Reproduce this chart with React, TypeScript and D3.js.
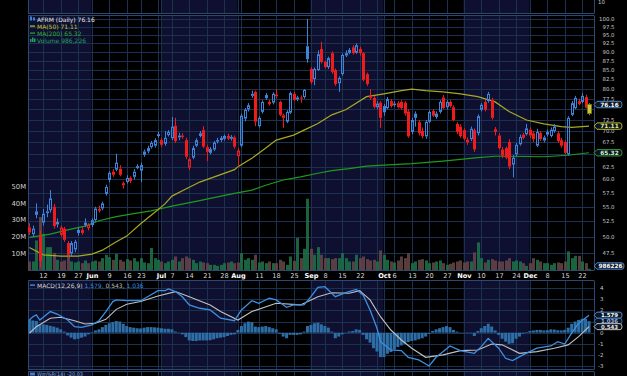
import React from "react";
import * as d3 from "d3";

const W = 627, H = 376;
const X0 = 28, X1 = 594;
const TOP_STRIP_BOT = 13.5;
const MAIN_TOP = 15.5, MAIN_BOT = 270.5;
const MACD_TOP = 280.5, MACD_BOT = 369.5, WM_TOP = 371.5;

const FIRST_DAY = "2025-05-06";
const LAST_DAY = "2025-12-24";
const HOLIDAYS = ["2025-05-26", "2025-06-19", "2025-07-04", "2025-09-01", "2025-11-27"];

const TICK_DATES = ["2025-05-12","2025-05-19","2025-05-27","2025-06-02","2025-06-09","2025-06-16","2025-06-23","2025-07-01","2025-07-07","2025-07-14","2025-07-21","2025-07-28","2025-08-01","2025-08-11","2025-08-18","2025-08-25","2025-09-02","2025-09-08","2025-09-15","2025-09-22","2025-10-01","2025-10-06","2025-10-13","2025-10-20","2025-10-27","2025-11-03","2025-11-10","2025-11-17","2025-11-24","2025-12-01","2025-12-08","2025-12-15","2025-12-22"];
const TICK_LABELS = ["12","19","27","Jun","9","16","23","Jul","7","14","21","28","Aug","11","18","25","Sep","8","15","22","Oct","6","13","20","27","Nov","10","17","24","Dec","8","15","22"];
const EXTRA_GRID_DATES = ["2025-06-30", "2025-08-04", "2025-09-29"];
const NAVY_MONTHS = [4, 6, 8, 10];

const PRICE_TICKS = [47.5,50,52.5,55,57.5,60,62.5,65,67.5,70,72.5,75,77.5,80,82.5,85,87.5,90,92.5,95,97.5,100];
const PRICE_LABELS_HIDDEN = [65, 75];
const VOLUME_TICKS = [10, 20, 30, 40, 50];
const MACD_TICKS = [4, 3, 2, 1, 0, -1, -2, -3];
const MACD_LABELS_HIDDEN = [1];

const PREV_CLOSE = 51.6;
const OPEN = [51.5,50.4,53.6,50.2,52.3,54.2,54.4,55.0,52.0,50.3,
51.3,49.0,47.4,48.0,50.6,51.1,51.9,51.4,51.9,52.7,
54.6,54.7,57.3,59.9,61.5,61.9,62.1,58.9,59.5,60.3,
60.5,62.2,61.7,64.9,65.6,66.5,66.8,68.9,68.0,67.2,
69.1,68.4,71.2,68.6,69.0,68.0,62.3,64.3,66.8,68.9,
70.2,66.5,65.3,66.0,67.8,68.0,68.3,68.9,68.3,68.6,
64.6,66.8,72.8,75.0,78.8,79.3,71.1,74.4,77.7,76.3,
76.6,78.6,76.8,73.6,72.1,74.2,78.8,77.4,77.9,78.0,
91.7,85.3,82.6,85.0,90.9,87.2,85.8,89.7,85.0,81.5,
83.9,89.0,89.8,91.4,89.8,90.9,89.7,83.9,78.3,77.8,
75.5,76.6,75.8,75.3,77.0,76.0,76.5,76.8,76.6,74.5,
69.8,74.0,72.0,70.0,68.8,72.1,74.6,73.2,74.4,77.9,
75.5,76.8,75.5,71.6,71.0,70.2,67.5,68.2,70.2,69.5,
74.9,76.8,77.0,77.3,69.8,69.0,66.0,66.3,67.6,62.9,
65.0,67.1,69.2,69.3,70.3,69.5,66.8,69.6,67.9,69.8,
68.9,70.0,69.5,68.0,67.6,65.0,73.7,75.3,77.0,76.8,
78.0,74.0];
const HIGH = [52.2,51.8,55.6,51.0,54.6,55.4,58.0,55.5,53.0,51.8,
51.6,49.3,49.3,49.5,51.5,51.6,53.0,52.2,53.0,55.0,
55.2,55.9,59.0,61.6,62.0,65.1,62.8,59.6,60.8,60.6,
62.0,63.0,63.3,66.0,66.8,67.8,68.4,69.8,68.5,70.0,
70.2,73.2,73.0,69.6,69.5,68.5,64.3,66.8,68.4,70.0,
71.1,67.0,66.5,67.8,68.5,68.9,69.2,69.4,69.1,69.0,
66.3,74.0,75.3,76.5,79.6,79.6,73.4,77.2,79.0,77.3,
79.2,80.0,77.1,74.0,74.8,79.4,79.3,78.3,78.4,80.0,
100.0,85.8,85.7,90.5,93.0,87.6,88.7,90.2,85.4,83.3,
89.6,90.5,91.2,92.0,92.5,91.5,90.0,84.3,80.0,78.3,
77.0,77.0,76.3,78.0,77.5,76.9,77.0,77.2,77.0,75.0,
73.0,74.5,72.5,70.8,72.5,74.8,75.0,74.5,77.2,78.5,
77.2,77.2,76.0,72.0,71.5,70.6,68.6,71.0,70.6,73.8,
76.5,77.3,79.3,77.8,70.9,69.5,66.5,66.6,68.2,64.8,
67.4,69.2,69.6,71.6,70.8,70.0,70.5,70.0,69.0,70.3,
70.8,71.6,70.0,68.5,68.0,73.4,77.0,78.3,77.6,79.0,
78.6,76.5];
const LOW = [50.3,50.0,53.0,45.4,51.8,53.2,54.0,51.3,51.5,50.0,
49.2,46.8,47.0,47.6,50.2,50.3,51.6,51.0,51.6,52.4,
54.0,54.4,57.0,59.5,60.5,61.6,60.6,58.3,59.2,59.3,
60.0,62.0,59.5,64.5,65.2,66.2,66.4,68.5,66.5,66.8,
68.8,68.0,67.4,68.0,68.3,64.0,61.8,64.0,66.5,68.6,
66.3,63.6,65.0,65.7,67.3,67.6,67.9,68.0,67.9,66.2,
62.5,66.5,72.2,74.5,77.8,71.1,70.8,74.0,77.3,75.9,
76.2,77.7,73.4,70.7,71.8,73.9,77.0,77.0,76.6,77.6,
87.0,81.3,81.0,84.8,86.8,85.4,85.3,84.0,80.8,79.3,
83.5,88.6,89.4,89.3,89.5,89.0,82.0,80.8,77.3,75.2,
75.0,70.7,73.5,75.0,75.4,75.6,75.2,75.0,73.5,68.5,
69.3,71.0,69.0,68.4,68.3,71.8,73.2,72.8,74.0,75.0,
75.0,75.4,72.2,69.3,68.5,68.0,67.0,67.8,65.5,69.0,
74.5,74.5,76.6,72.6,69.0,66.0,64.2,64.0,62.0,60.4,
64.6,66.8,68.2,69.0,68.5,67.6,66.5,67.8,67.5,68.8,
68.6,69.6,67.4,66.4,65.0,64.7,73.4,75.0,76.0,76.5,
75.2,73.6];
const CLOSE = [50.7,51.3,54.2,46.3,53.8,53.9,56.5,51.7,52.4,51.5,
49.5,47.2,49.0,49.2,51.1,50.6,52.3,51.9,52.7,54.7,
54.3,55.6,58.6,61.3,60.9,63.3,60.9,59.3,60.3,59.7,
61.5,62.6,62.8,65.6,66.3,67.4,68.0,69.3,67.0,68.5,
69.8,71.0,67.8,69.0,68.7,64.5,64.0,66.3,68.0,69.5,
66.6,65.5,66.1,67.5,68.0,68.5,68.9,68.3,68.7,66.6,
65.8,73.5,74.9,76.0,78.3,72.1,73.0,76.8,78.5,76.8,
78.8,78.2,73.7,73.0,74.4,79.0,77.3,77.9,77.6,79.8,
88.0,81.8,85.3,89.4,87.2,85.8,88.3,84.5,81.3,82.9,
89.2,89.7,90.6,89.7,92.0,89.7,82.4,81.3,77.8,75.6,
76.4,73.0,74.3,77.5,75.8,76.4,75.5,75.3,74.0,68.8,
72.5,73.0,69.5,68.9,72.1,74.4,73.5,74.0,76.8,75.3,
76.8,75.8,72.5,69.8,68.9,68.3,68.1,70.5,66.0,73.4,
76.1,74.9,78.8,73.0,70.4,66.3,64.7,64.3,62.5,64.3,
67.0,68.7,68.5,70.6,69.0,68.2,69.8,68.2,68.6,69.2,
70.3,71.0,67.8,66.8,65.3,73.0,76.5,77.8,76.3,78.3,
75.4,76.16];
const VOLUME_M = [5.4,5.4,18,32,22,14,14,10.5,6.4,5.4,
6,9.4,5.4,4.8,5.4,4.4,6,4.4,5.4,6,
5.4,7.4,9.4,8,6.4,9.9,6.4,5.4,6.8,6,
7.4,5.4,7.4,4.8,4.4,13.5,7.4,6.4,5.4,4.4,
5.4,6.4,8.4,5.4,7.4,8.4,7.4,6.4,4.4,5.4,
4.8,4.4,3.4,3.4,2.8,3.4,4.4,4.8,5.4,4.4,
4.8,10.4,6.4,7.4,6.4,9.4,4.8,5.4,4.4,5.4,
4.4,4.4,6.4,5.4,3.4,8.4,5.8,19.5,7.4,13,
43,13,9.4,14,9.4,7.4,7.4,6.8,7.4,7.4,
10.4,7.4,5.4,5.4,9.4,7.4,8.4,6.8,6,6.4,
5.4,12,9.4,6.4,5.4,4.8,6,8.4,7.4,10.4,
4.4,5.4,6.4,6.8,6,4.4,4.8,5.4,6,4.4,
3.4,4,4.8,5.4,6,4.8,5.4,5.4,10.8,16.8,
7.4,4.8,6.4,6.8,6,5.4,5.4,6,7.4,5.4,
6,5.4,4.4,2.8,4.4,7.4,6.4,5.4,4.4,4.4,
3.4,4.4,4.8,4.4,5.4,11.4,7.4,8.8,8.8,5.4,
4.4,0.99];

const MA50_IDX = [0,4,9,14,18,21,25,28,32,36,39,41,45,49,52,59,60,64,68,71,76,79,83,87,91,97,102,107,110,114,119,124,129,134,138,143,148,153,156,161];
const MA50_VAL = [48.3,47.2,47.0,47.0,47.3,47.9,49.2,50.1,52.1,54.0,55.5,56.9,58.2,59.5,60.2,61.9,62.5,64.2,66.3,68.0,69.1,70.2,71.7,73.7,74.9,78.1,78.8,79.6,80.0,79.6,79.3,78.8,78.1,76.8,74.5,72.5,71.6,71.0,70.8,71.11];
const MA200_IDX = [0,6,11,16,20,25,30,35,38,41,45,49,52,59,64,68,73,78,83,87,92,97,102,110,119,129,134,138,148,155,161];
const MA200_VAL = [49.9,50.4,51.1,51.7,52.6,53.3,53.8,54.3,54.7,55.1,55.6,56.1,56.5,57.4,58.0,58.9,59.9,60.5,61.2,61.7,62.1,62.6,62.8,63.1,63.6,64.3,64.6,64.6,64.5,64.8,65.32];

const MACD_IDX = [0,1,2,3,6,8,11,13,15,18,20,22,24,25,28,32,34,37,39,40,42,44,46,49,52,55,59,61,64,66,69,71,74,76,79,81,83,85,88,91,94,96,98,100,101,104,107,109,112,115,117,121,124,128,130,132,135,137,139,142,146,150,152,154,156,158,161];
const MACD_VAL = [1.14,1.44,1.6,1.14,1.9,1.68,1.14,0.54,0.48,0.7,1.08,1.9,2.8,2.95,2.88,2.88,3.24,3.78,3.78,3.94,3.7,3.24,2.5,2.2,2.05,1.3,1.08,2.05,2.88,2.65,3.1,2.95,2.29,2.5,2.5,3.24,4.09,4.14,3.24,3.6,3.9,3.4,2.05,0.4,-0.81,-1.56,-1.62,-2.22,-2.46,-3.0,-2.22,-1.2,-1.62,-1.86,-1.26,-0.51,-1.4,-2.31,-2.52,-2.0,-1.4,-1.2,-0.81,-1.02,-0.05,0.85,1.579];
const SIGNAL_IDX = [0,2,6,9,13,16,19,22,25,28,32,37,42,46,52,55,60,64,71,78,83,87,92,95,98,101,104,107,110,114,119,124,129,133,136,141,146,151,155,158,161];
const SIGNAL_VAL = [-0.05,0.54,1.3,1.39,1.08,0.78,0.85,1.2,2.1,2.56,2.8,3.3,3.7,3.24,2.5,1.9,1.14,1.9,2.65,2.5,3.24,3.6,3.55,3.78,2.95,1.44,0.24,-0.66,-1.4,-2.22,-2.0,-1.62,-1.56,-1.02,-1.1,-1.86,-1.71,-1.4,-1.1,-0.36,0.543];
const HIST = [1.15,1.1,1.05,0.75,0.75,0.7,0.62,0.55,0.45,0.3,
0.1,-0.25,-0.45,-0.6,-0.55,-0.45,-0.35,-0.15,0.05,0.2,
0.3,0.5,0.7,0.85,0.95,1.05,1.0,0.8,0.6,0.5,
0.45,0.4,0.38,0.45,0.5,0.5,0.48,0.45,0.4,0.35,
0.35,0.3,0.1,0.0,-0.15,-0.4,-0.7,-0.75,-0.75,-0.7,
-0.7,-0.7,-0.68,-0.6,-0.5,-0.45,-0.4,-0.3,-0.2,-0.15,
0.25,0.6,0.85,1.0,0.95,0.55,0.5,0.55,0.6,0.5,
0.4,0.3,-0.1,-0.35,-0.5,-0.2,-0.2,-0.2,-0.15,0.1,
0.6,0.7,0.85,0.9,0.75,0.6,0.45,0.1,-0.5,-0.35,
-0.15,0.0,0.1,0.15,0.3,0.25,-0.2,-0.6,-0.9,-1.4,
-1.7,-2.2,-2.2,-1.9,-1.75,-1.5,-1.3,-1.15,-1.0,-0.85,
-0.75,-0.7,-0.6,-0.5,-0.35,-0.1,0.15,0.3,0.4,0.5,
0.6,0.5,0.25,0.1,0.0,0.0,0.0,-0.05,-0.3,0.15,
0.4,0.6,0.8,0.55,0.2,-0.2,-0.55,-0.8,-1.0,-0.95,
-0.55,-0.35,-0.1,0.05,0.15,0.2,0.25,0.25,0.2,0.22,
0.3,0.28,0.22,0.2,0.25,0.45,0.8,1.0,1.15,1.25,
1.25,1.036];

const BG = "#000000";
const NAVY = "#0f1030";
const GRID = "#1a3152";
const BORDER = "#2b4870";
const BLUE = "#3d84dc";
const RED = "#ee1c1c";
const YELLOW_BAR = "#c8c83a";
const MA50_C = "#a8a824";
const MA200_C = "#1f9a1f";
const VOL_UP = "#1f7049";
const VOL_DN = "#644545";
const MACD_C = "#3d8fe0";
const SIG_C = "#c0c0c0";
const HIST_C = "#2e6ea6";
const FONT = "'DejaVu Sans', Verdana, sans-serif";

function tradingDays(a: string, b: string, hol: string[]) {
  const out: string[] = [];
  const d = new Date(a + "T00:00:00Z");
  const end = new Date(b + "T00:00:00Z");
  while (d <= end) {
    const wd = d.getUTCDay();
    const s = d.toISOString().slice(0, 10);
    if (wd !== 0 && wd !== 6 && !hol.includes(s)) out.push(s);
    d.setUTCDate(d.getUTCDate() + 1);
  }
  return out;
}

function Tag({ y, text, stroke, color, fill = "#0c1422", x = 594, w = 26, h = 6.4, fs = 5.8 }: any) {
  const p = `M${x},${y} L${x + 3},${y - h / 2} L${x + w},${y - h / 2} Q${x + w + 2},${y - h / 2} ${x + w + 2},${y} Q${x + w + 2},${y + h / 2} ${x + w},${y + h / 2} L${x + 3},${y + h / 2} Z`;
  return (
    <g>
      <path d={p} fill={fill} stroke={stroke} strokeWidth={1} />
      <text x={x + 3 + (w - 1) / 2} y={y + 0.2} fill={color} fontSize={fs} fontWeight="bold" fontFamily={FONT} textAnchor="middle" dominantBaseline="central">{text}</text>
    </g>
  );
}

export default function App() {
  const dates = tradingDays(FIRST_DAY, LAST_DAY, HOLIDAYS);
  const n = dates.length;
  const x = d3.scaleLinear().domain([-0.403, 162.43]).range([X0, X1]);
  const yP = d3.scaleLog().domain([44.9, 101.12]).range([MAIN_BOT, MAIN_TOP]);
  const yV = d3.scaleLinear().domain([0, 50]).range([MAIN_BOT, MAIN_BOT - 83.5]);
  const yM = d3.scaleLinear().domain([-3, 4]).range([365.97, 288.27]);
  const cx = (i: number) => Math.round(x(i)) + 0.5;
  const hy = (v: number) => Math.round(v) + 0.5;

  const monthStarts: number[] = [0];
  for (let i = 1; i < n; i++) if (dates[i].slice(5, 7) !== dates[i - 1].slice(5, 7)) monthStarts.push(i);
  const bands = monthStarts.map((k, j) => {
    const x0 = k === 0 ? X0 : x(k) - 0.5;
    const x1 = j + 1 < monthStarts.length ? x(monthStarts[j + 1]) - 0.5 : X1;
    const m = +dates[k].slice(5, 7) - 1;
    return { x0, x1, navy: NAVY_MONTHS.includes(m) };
  });
  const tickIdx = TICK_DATES.map((d) => dates.indexOf(d));
  const gridIdx = tickIdx.concat(EXTRA_GRID_DATES.map((d) => dates.indexOf(d)));

  const panels = [
    [0, TOP_STRIP_BOT],
    [MAIN_TOP, MAIN_BOT],
    [MACD_TOP, MACD_BOT],
    [WM_TOP, H + 2],
  ];

  const ma50Line = d3.line<number>().x((_, j) => x(MA50_IDX[j])).y((v) => yP(v));
  const ma200Line = d3.line<number>().x((_, j) => x(MA200_IDX[j])).y((v) => yP(v));
  const macdLine = d3.line<number>().x((_, j) => x(MACD_IDX[j])).y((v) => yM(v));
  const sigLine = d3.line<number>().x((_, j) => x(SIGNAL_IDX[j])).y((v) => yM(v));

  const candles = CLOSE.map((c, i) => {
    const o = OPEN[i], h = HIGH[i], l = LOW[i];
    const prev = i > 0 ? CLOSE[i - 1] : PREV_CLOSE;
    const last = i === n - 1;
    const color = last ? YELLOW_BAR : c >= prev ? BLUE : RED;
    const hollow = c > o;
    const xc = cx(i);
    const yT = yP(Math.max(o, c)), yB = yP(Math.min(o, c));
    const bodyH = Math.max(1, yB - yT);
    return (
      <g key={i}>
        <line x1={xc} x2={xc} y1={yP(h)} y2={yT} stroke={last ? "#8a8a22" : color} strokeWidth={1} />
        <line x1={xc} x2={xc} y1={yT + bodyH} y2={yP(l)} stroke={last ? "#8a8a22" : color} strokeWidth={1} />
        {last ? (
          <rect x={xc - 2} y={yT} width={4} height={bodyH} fill={YELLOW_BAR} stroke="#7a7a18" strokeWidth={0.8} />
        ) : hollow ? (
          <rect x={xc - 1} y={yT + 0.5} width={2} height={Math.max(0.5, bodyH - 1)} fill="none" stroke={color} strokeWidth={1} />
        ) : (
          <rect x={xc - 1.5} y={yT} width={3} height={bodyH} fill={color} />
        )}
      </g>
    );
  });

  const vols = VOLUME_M.map((v, i) => {
    const prev = i > 0 ? CLOSE[i - 1] : PREV_CLOSE;
    const up = CLOSE[i] >= prev;
    const y0 = yV(v);
    return <rect key={i} x={cx(i) - 1.5} y={y0} width={3} height={MAIN_BOT - y0} fill={up ? VOL_UP : VOL_DN} fillOpacity={0.88} />;
  });

  const hist = HIST.map((v, i) => {
    const y0 = yM(Math.max(0, v)), y1 = yM(Math.min(0, v));
    return <rect key={i} x={x(i) - 1.5} y={y0} width={3} height={Math.max(0.5, y1 - y0)} fill={HIST_C} />;
  });

  const legend = [
    { y: 19, text: "AFRM (Daily) 76.16", color: "#e6e6e6", icon: "candle" },
    { y: 26, text: "MA(50) 71.11", color: "#c4c42a", icon: MA50_C },
    { y: 33, text: "MA(200) 65.32", color: "#2fae2f", icon: MA200_C },
    { y: 40, text: "Volume 986,226", color: "#23a063", icon: "vol" },
  ];

  return (
    <svg width={W} height={H} style={{ position: "fixed", left: 0, top: 0, display: "block", background: BG }}>
      <defs>
        <clipPath id="cMain"><rect x={X0} y={MAIN_TOP} width={X1 - X0} height={MAIN_BOT - MAIN_TOP} /></clipPath>
        <clipPath id="cMacd"><rect x={X0} y={MACD_TOP} width={X1 - X0} height={MACD_BOT - MACD_TOP} /></clipPath>
      </defs>
      <rect x={0} y={0} width={W} height={H} fill={BG} />
      {panels.map(([t, b], pi) => (
        <g key={pi}>
          {bands.filter((bd) => bd.navy).map((bd, j) => (
            <rect key={j} x={bd.x0} y={t} width={bd.x1 - bd.x0} height={b - t} fill={NAVY} />
          ))}
          {gridIdx.map((gi, j) => (
            <line key={j} x1={cx(gi)} x2={cx(gi)} y1={t} y2={b} stroke={GRID} strokeWidth={1} />
          ))}
        </g>
      ))}
      {PRICE_TICKS.map((p) => (
        <line key={p} x1={X0} x2={X1} y1={hy(yP(p))} y2={hy(yP(p))} stroke={GRID} strokeWidth={1} />
      ))}
      {MACD_TICKS.map((m) => (
        <line key={m} x1={X0} x2={X1} y1={hy(yM(m))} y2={hy(yM(m))} stroke={GRID} strokeWidth={1} />
      ))}
      {[TOP_STRIP_BOT, MAIN_TOP, MAIN_BOT, MACD_TOP, MACD_BOT, WM_TOP].map((yy, j) => (
        <line key={j} x1={X0} x2={X1} y1={yy} y2={yy} stroke={BORDER} strokeWidth={1} />
      ))}
      {panels.map(([t, b], j) => (
        <g key={j}>
          <line x1={X0 + 0.5} x2={X0 + 0.5} y1={t} y2={b} stroke={BORDER} strokeWidth={1} />
          <line x1={X1 + 0.5} x2={X1 + 0.5} y1={t} y2={b} stroke={BORDER} strokeWidth={1} />
        </g>
      ))}

      <g clipPath="url(#cMain)">
        {vols}
        <path d={ma200Line(MA200_VAL) || ""} fill="none" stroke={MA200_C} strokeWidth={1.2} />
        <path d={ma50Line(MA50_VAL) || ""} fill="none" stroke={MA50_C} strokeWidth={1.2} />
        {candles}
      </g>

      <g clipPath="url(#cMacd)">
        {hist}
        <path d={sigLine(SIGNAL_VAL) || ""} fill="none" stroke={SIG_C} strokeWidth={1.1} />
        <path d={macdLine(MACD_VAL) || ""} fill="none" stroke={MACD_C} strokeWidth={1.3} />
      </g>

      {legend.map((lg, j) => (
        <g key={j}>
          {lg.icon === "candle" ? (
            <g>
              <rect x={30} y={lg.y - 2.5} width={2} height={4} fill={BLUE} />
              <rect x={33} y={lg.y - 1.5} width={2} height={3} fill={BLUE} />
            </g>
          ) : lg.icon === "vol" ? (
            <g>
              <rect x={30} y={lg.y - 1} width={1.5} height={3} fill="#23a063" />
              <rect x={32} y={lg.y - 2.5} width={1.5} height={4.5} fill="#23a063" />
              <rect x={34} y={lg.y - 1.5} width={1.5} height={3.5} fill="#23a063" />
            </g>
          ) : (
            <rect x={30} y={lg.y - 0.6} width={5} height={1.4} fill={lg.icon} />
          )}
          <text x={37} y={lg.y} fill={lg.color} fontSize={6} fontFamily={FONT} dominantBaseline="central">{lg.text}</text>
        </g>
      ))}
      <g>
        <rect x={30} y={284.4} width={5} height={1.4} fill={MACD_C} />
        <text x={37} y={285} fontSize={6} fontFamily={FONT} dominantBaseline="central">
          <tspan fill="#d6d6d6">MACD(12,26,9)</tspan>
          <tspan fill={MACD_C}> 1.579,</tspan>
          <tspan fill="#bdbdbd"> 0.543,</tspan>
          <tspan fill={MACD_C}> 1.036</tspan>
        </text>
      </g>
      <g>
        <rect x={30} y={372.5} width={5} height={3} fill="#4a7ac0" />
        <text x={37} y={373.6} fontSize={5} fontFamily={FONT} fill="#7ea6d8" dominantBaseline="central">Wm%R(14) -20.03</text>
      </g>

      {TICK_LABELS.map((t, j) => {
        const isMonth = /[A-Za-z]/.test(t);
        return (
          <text key={j} x={cx(tickIdx[j])} y={276} fill={isMonth ? "#ffffff" : "#d4d4d4"} fontWeight={isMonth ? "bold" : "normal"} fontSize={6.6} fontFamily={FONT} textAnchor="middle" dominantBaseline="central">{t}</text>
        );
      })}

      {VOLUME_TICKS.map((v) => (
        <text key={v} x={26} y={yV(v)} fill="#cfcfcf" fontSize={6.8} fontFamily={FONT} textAnchor="end" dominantBaseline="central">{v}M</text>
      ))}

      {PRICE_TICKS.filter((p) => !PRICE_LABELS_HIDDEN.includes(p)).map((p) => (
        <text key={p} x={614.5} y={yP(p)} fill="#c8c8c8" fontSize={5.4} fontFamily={FONT} textAnchor="end" dominantBaseline="central">{p.toFixed(1)}</text>
      ))}
      <text x={598} y={1.5} fill="#c8c8c8" fontSize={5.4} fontFamily={FONT} dominantBaseline="central">10</text>

      {MACD_TICKS.filter((m) => !MACD_LABELS_HIDDEN.includes(m)).map((m) => (
        <text key={m} x={603.5} y={m === 2 ? yM(m) - 0.6 : yM(m)} fill="#c8c8c8" fontSize={5.5} fontFamily={FONT} textAnchor="end" dominantBaseline="central">{m}</text>
      ))}

      <Tag y={yP(76.16)} text="76.16" stroke="#4f86c6" color="#ffffff" />
      <Tag y={yP(71.11)} text="71.11" stroke="#b4b42c" color="#e6e6a0" />
      <Tag y={yP(65.32)} text="65.32" stroke="#2a9a2a" color="#d8f0d8" />
      <Tag y={266} text="986226" stroke="#4f86c6" color="#ffffff" w={28} />
      <Tag y={yM(1.036)} text="1.036" stroke="#3d6fa8" color="#9ab8e0" h={6} fs={5.4} />
      <Tag y={yM(1.579)} text="1.579" stroke="#4f8ed0" color="#ffffff" h={6} fs={5.4} />
      <Tag y={yM(0.543)} text="0.543" stroke="#bdbdbd" color="#e8e8e8" h={6} fs={5.4} />
    </svg>
  );
}
